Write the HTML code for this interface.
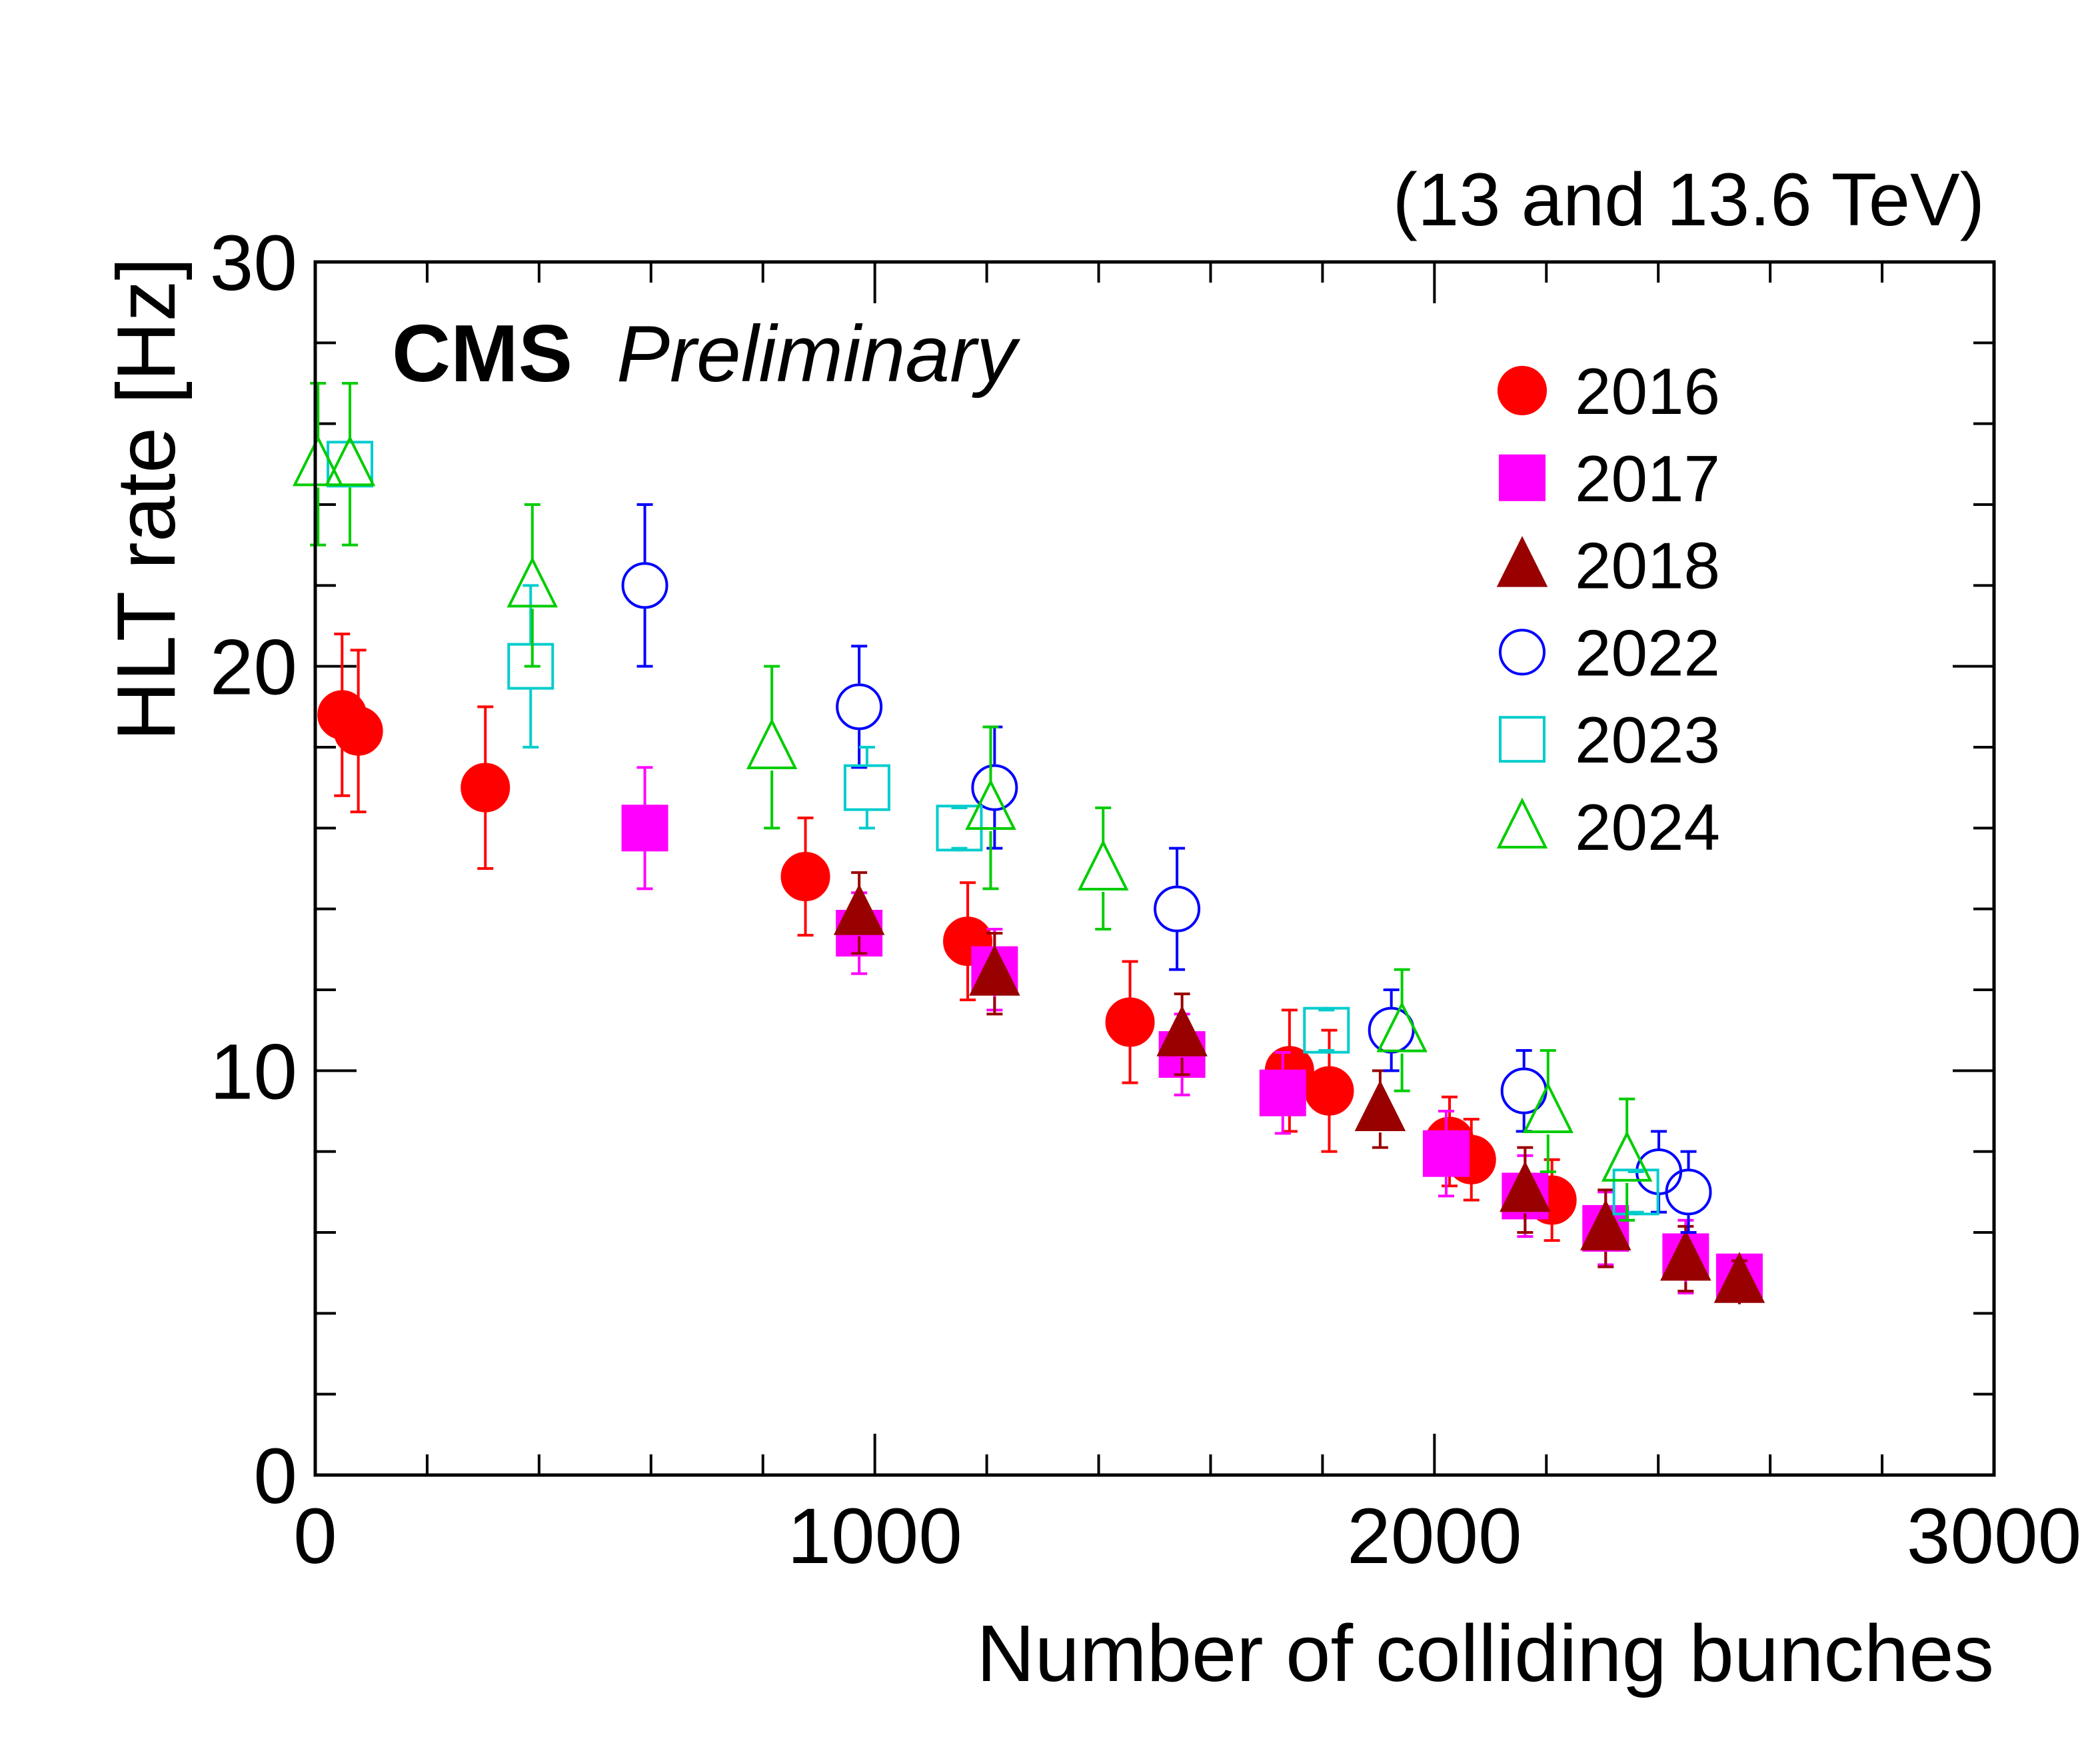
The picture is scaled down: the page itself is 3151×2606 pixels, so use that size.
<!DOCTYPE html>
<html><head><meta charset="utf-8"><style>
html,body{margin:0;padding:0;background:#fff}
svg{display:block}
text{font-family:"Liberation Sans",sans-serif;fill:#000}
</style></head><body>
<svg id="chart" width="3151" height="2606" viewBox="0 0 3151 2606" xmlns="http://www.w3.org/2000/svg">
<text x="2978" y="338" font-size="112" text-anchor="end">(13 and 13.6 TeV)</text>
<text x="588" y="572" font-size="122" font-weight="bold">CMS</text>
<text x="925" y="572" font-size="120" font-style="italic">Preliminary</text>
<text transform="translate(262,386) rotate(-90)" font-size="124" text-anchor="end">HLT rate [Hz]</text>
<text x="2992" y="2522" font-size="121" text-anchor="end">Number of colliding bunches</text>
<g id="axes"></g>
<g id="series"></g>
<g id="legend"></g>
<rect x="473" y="393" width="2519" height="1820" fill="none" stroke="#000" stroke-width="5"/>
</svg>
<script>
const xTicks = [0, 1000, 2000, 3000];
const yTicks = [0, 10, 20, 30];
const years = ["2016", "2017", "2018", "2022", "2023", "2024"];

const x2016 = [48, 77, 304, 876, 1166, 1456, 1741, 1812, 2027, 2066, 2210];
const y2016 = [18.8, 18.4, 17.0, 14.8, 13.2, 11.2, 10.0, 9.5, 8.25, 7.8, 6.8];
const e2016 = [2.0, 2.0, 2.0, 1.45, 1.45, 1.5, 1.5, 1.5, 1.1, 1.0, 1.0];

const x2017 = [589, 972, 1214, 1549, 1729, 2021, 2162, 2306, 2449, 2545];
const y2017 = [16.0, 13.4, 12.5, 10.4, 9.45, 7.95, 6.9, 6.1, 5.4, 4.9];
const e2017 = [1.5, 1.0, 1.0, 1.0, 1.0, 1.05, 1.0, 0.9, 0.9, 0.5];

const x2018 = [972, 1214, 1549, 1903, 2162, 2306, 2449, 2545];
const y2018 = [13.9, 12.4, 10.9, 9.05, 7.05, 6.1, 5.35, 4.8];
const e2018 = [1.0, 1.0, 1.0, 0.95, 1.05, 0.95, 0.8, 0.5];

const x2022 = [589, 972, 1214, 1540, 1923, 2160, 2401, 2454];
const y2022 = [22.0, 19.0, 17.0, 14.0, 11.0, 9.5, 7.5, 7.0];
const e2022 = [2.0, 1.5, 1.5, 1.5, 1.0, 1.0, 1.0, 1.0];

const x2023 = [62, 385, 986, 1151, 1807, 2360];
const y2023 = [25.0, 20.0, 17.0, 16.0, 11.0, 7.0];
const e2023 = [0, 2.0, 1.0, 0.5, 0.5, 0.5];

const x2024 = [5, 62, 388, 816, 1207, 1408, 1942, 2203, 2344];
const y2024 = [25.0, 25.0, 22.0, 18.0, 16.5, 15.0, 11.0, 9.0, 7.8];
const e2024 = [2.0, 2.0, 2.0, 2.0, 2.0, 1.5, 1.5, 1.5, 1.5];

const NS = "http://www.w3.org/2000/svg";
const X0 = 473, X1 = 2992, Y0 = 2213, Y1 = 393;
function sx(v){ return X0 + (v/3000)*(X1-X0); }
function sy(v){ return Y0 - (v/30)*(Y0-Y1); }
function mk(tag, attrs, parent){
  const e = document.createElementNS(NS, tag);
  for (const k in attrs) e.setAttribute(k, attrs[k]);
  parent.appendChild(e);
  return e;
}
const axes = document.getElementById('axes');
for (let v = 0; v <= 3000; v += 200) {
  const major = v % 1000 === 0;
  const L = major ? 62 : 31;
  const t1 = mk('line', {x1:sx(v), x2:sx(v), y1:Y0, y2:Y0-L, stroke:'#000','stroke-width':4}, axes);
  
  
  const t2 = mk('line', {x1:sx(v), x2:sx(v), y1:Y1, y2:Y1+L, stroke:'#000','stroke-width':4}, axes);
  
  
}
for (let v = 0; v <= 30; v += 2) {
  const major = v % 10 === 0;
  const L = major ? 62 : 31;
  const t1 = mk('line', {x1:X0, x2:X0+L, y1:sy(v), y2:sy(v), stroke:'#000','stroke-width':4}, axes);
  
  
  const t2 = mk('line', {x1:X1, x2:X1-L, y1:sy(v), y2:sy(v), stroke:'#000','stroke-width':4}, axes);
  
  
}
xTicks.forEach(v => {
  const t = mk('text', {x:sx(v), y:2345, 'font-size':118, 'text-anchor':'middle'}, axes);
  t.textContent = String(v);
  
  
});
yTicks.forEach(v => {
  const t = mk('text', {x:446, y:sy(v)+42, 'font-size':118, 'text-anchor':'end'}, axes);
  t.textContent = String(v);
  
  
});

const styles = [
  {c:'#ff0000', shape:'circle', fill:true},
  {c:'#ff00ff', shape:'square', fill:true},
  {c:'#990000', shape:'triangle', fill:true},
  {c:'#0000ff', shape:'circle', fill:false},
  {c:'#00cccc', shape:'square', fill:false},
  {c:'#00cc00', shape:'triangle', fill:false}
];
const R = 35;
function marker(g, cx, cy, st){
  const a = {stroke:st.c, 'stroke-width':4, fill: st.fill ? st.c : 'none'};
  let e;
  if (st.shape === 'circle') e = mk('circle', Object.assign({cx:cx, cy:cy, r: st.fill ? R : R-2}, a), g);
  else if (st.shape === 'square') e = mk('rect', Object.assign({x:cx-R+2, y:cy-R+2, width:2*R-4, height:2*R-4}, a), g);
  else e = mk('polygon', Object.assign({points:`${cx},${cy-R-4} ${cx-R},${cy+R-4} ${cx+R},${cy+R-4}`}, a), g);
  return e;
}
const series = document.getElementById('series');
const allX = [x2016, x2017, x2018, x2022, x2023, x2024];
const allY = [y2016, y2017, y2018, y2022, y2023, y2024];
const allE = [e2016, e2017, e2018, e2022, e2023, e2024];
allX.forEach((xs, s) => {
  const st = styles[s];
  const g = mk('g', {}, series);
  
  
  xs.forEach((xv, i) => {
    const cx = sx(xv), cy = sy(allY[s][i]);
    const err = allE[s][i];
    if (err > 0) {
      const yt = sy(allY[s][i] + err), yb = sy(allY[s][i] - err);
      const eb = mk('path', {d:`M${cx},${cy-R} L${cx},${yt} M${cx-12},${yt} L${cx+12},${yt} M${cx},${cy+R} L${cx},${yb} M${cx-12},${yb} L${cx+12},${yb}`, stroke:st.c, 'stroke-width':4, fill:'none'}, g);
      
      
    }
    const m = marker(g, cx, cy, st);
    
    
  });
});
const legend = document.getElementById('legend');
years.forEach((y, i) => {
  const cy = 586 + i*130.8;
  const g = mk('g', {}, legend);
  
  
  marker(g, 2284, cy, styles[i]);
  const t = mk('text', {x:2363, y:cy+35, 'font-size':98}, g);
  t.textContent = y;
});
</script>
</body></html>
